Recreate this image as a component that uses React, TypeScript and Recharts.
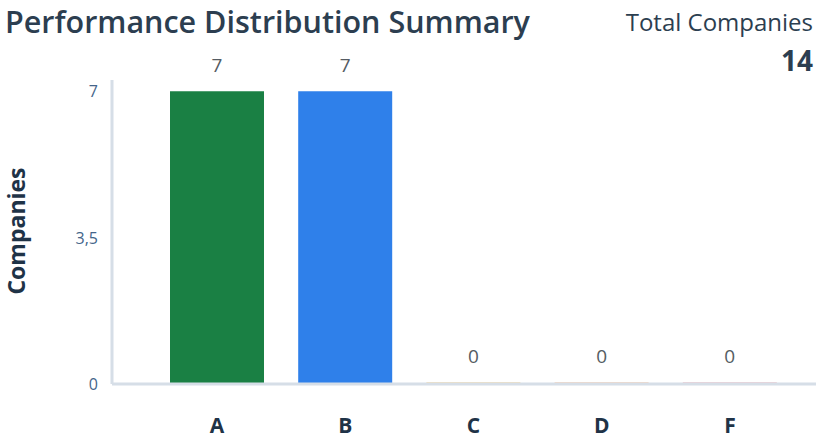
import React from 'react';
import { BarChart, Bar, XAxis, YAxis, Cell, LabelList } from 'recharts';

const categories = ['A', 'B', 'C', 'D', 'F'];
const companyCounts = [7, 7, 0, 0, 0];
const gradeColors = ['#1a8044', '#2f80ea', '#f2c46a', '#f5b07c', '#e59aa2'];
const yTicks = [0, 3.5, 7];
const totalCompanies = 14;
const titleText = 'Performance Distribution Summary';
const totalLabel = 'Total Companies';
const yAxisTitle = 'Companies';

const data = categories.map((c, i) => ({ grade: c, count: companyCounts[i] }));

const FONT = '"Open Sans", "Noto Sans", sans-serif';

const YTick = (props: any) => {
  const { x, y, payload } = props;
  const label = String(payload.value).replace('.', ',');
  return (
    <text x={x} y={y} dy={6} textAnchor="end" fill="#44658a" fontSize={16} fontFamily={FONT}>
      {label}
    </text>
  );
};

const XTick = (props: any) => {
  const { x, y, payload } = props;
  return (
    <text x={x} y={y} dy={49} textAnchor="middle" fill="#1f3347" fontSize={21} fontWeight={700} fontFamily={FONT}>
      {payload.value}
    </text>
  );
};

const ValueLabel = (props: any) => {
  const { x, y, width, height, value } = props;
  const top = height < 0 ? y + height : y;
  return (
    <text x={x + width / 2} y={top} dy={-19} textAnchor="middle" fill="#555c63" fontSize={19} fontFamily={FONT}>
      {value}
    </text>
  );
};

export default function App() {
  return (
    <div style={{ position: 'absolute', left: 0, top: 0, width: 816, height: 439, background: '#fff', overflow: 'hidden' }}>
      <BarChart
        width={816}
        height={439}
        data={data}
        margin={{ top: 80, right: 0, bottom: 0, left: 0 }}
        barSize={94}
      >
        <XAxis
          dataKey="grade"
          axisLine={{ stroke: '#d6dee7', strokeWidth: 3 }}
          tickLine={false}
          tickSize={0}
          tickMargin={0}
          height={55}
          padding={{ left: 41, right: 22 }}
          tick={<XTick />}
          interval={0}
        />
        <YAxis
          width={112}
          domain={[0, 7.27]}
          ticks={yTicks}
          axisLine={{ stroke: '#d6dee7', strokeWidth: 3 }}
          tickLine={false}
          tickSize={0}
          tickMargin={14}
          tick={<YTick />}
          allowDataOverflow
        />
        <Bar dataKey="count" isAnimationActive={false} minPointSize={2}>
          {data.map((d, i) => (
            <Cell key={d.grade} fill={gradeColors[i]} fillOpacity={d.count === 0 ? 0.5 : 1} />
          ))}
          <LabelList dataKey="count" content={<ValueLabel />} />
        </Bar>
      </BarChart>
      <svg width={816} height={439} style={{ position: 'absolute', left: 0, top: 0, pointerEvents: 'none' }}>
        <text x={5} y={33} fill="#2c3e50" fontSize={30.5} fontWeight={600} fontFamily={FONT}>
          {titleText}
        </text>
        <text x={813} y={31} textAnchor="end" fill="#2c3e50" fontSize={24} fontFamily={FONT}>
          {totalLabel}
        </text>
        <text x={813} y={71} textAnchor="end" fill="#2c3e50" fontSize={28} fontWeight={700} fontFamily={FONT}>
          {totalCompanies}
        </text>
        <text
          x={0}
          y={0}
          transform="translate(25, 231) rotate(-90)"
          textAnchor="middle"
          fill="#1f3347"
          fontSize={23}
          fontWeight={700}
          fontFamily={FONT}
        >
          {yAxisTitle}
        </text>
      </svg>
    </div>
  );
}
